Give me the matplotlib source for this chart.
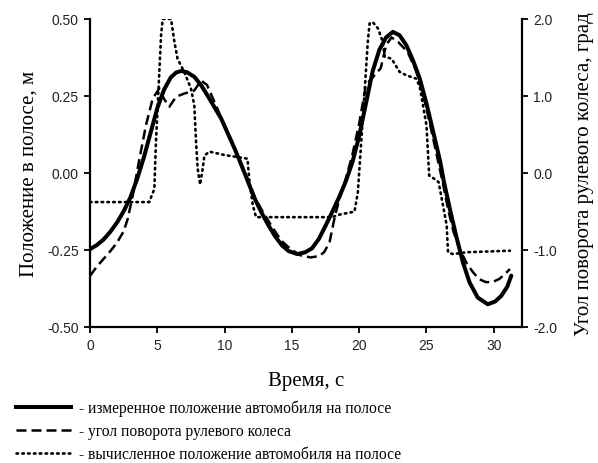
import numpy as np
import matplotlib
matplotlib.use("Agg")
import matplotlib.pyplot as plt
from matplotlib.lines import Line2D
from matplotlib.ticker import FormatStrFormatter

plt.rcParams['axes.unicode_minus'] = False

# измеренное положение автомобиля на полосе, м
t_meas = [0, 0.5, 1.0, 1.5, 2.0, 2.5, 3.0, 3.5, 4.0, 4.5, 5.0, 5.5, 6.0, 6.4, 6.8,
          7.2, 7.75, 8.25, 8.75, 9.25, 9.75, 10.25, 10.75, 11.25, 11.75, 12.25,
          12.75, 13.25, 13.75, 14.25, 14.75, 15.4, 16.0, 16.5, 17.0, 17.5, 18.0,
          18.5, 19.0, 19.5, 20.0, 20.5, 21.0, 21.5, 22.0, 22.5, 23.0, 23.5, 24.0,
          24.5, 25.0, 25.5, 26.0, 26.3, 26.75, 27.2, 27.7, 28.2, 28.8, 29.55,
          30.1, 30.55, 31.0, 31.3]
y_meas = [-0.248, -0.235, -0.217, -0.192, -0.162, -0.125, -0.08, -0.02, 0.05,
          0.13, 0.21, 0.27, 0.31, 0.326, 0.331, 0.327, 0.312, 0.285, 0.25,
          0.213, 0.176, 0.127, 0.078, 0.025, -0.03, -0.085, -0.13, -0.17, -0.206,
          -0.235, -0.254, -0.264, -0.258, -0.245, -0.215, -0.172, -0.127, -0.08,
          -0.028, 0.035, 0.12, 0.225, 0.33, 0.40, 0.44, 0.458, 0.447, 0.415,
          0.365, 0.306, 0.225, 0.133, 0.04, -0.03, -0.12, -0.204, -0.29, -0.356,
          -0.405, -0.427, -0.418, -0.40, -0.37, -0.334]

# угол поворота рулевого колеса, град
t_steer = [0, 0.5, 1.0, 1.5, 2.0, 2.5, 2.8, 3.17, 3.67, 4.16, 4.65, 5.15, 5.5,
           5.9, 6.4, 7.0, 7.75, 8.25, 8.7, 9.2, 9.74, 10.25, 10.75, 11.25, 11.75,
           12.25, 12.75, 13.45, 14.2, 14.9, 15.6, 16.4, 17.05, 17.4, 17.8, 18.2,
           18.5, 19.0, 19.5, 20.0, 20.5, 21.0, 21.6, 22.0, 22.4, 22.9, 23.6, 24.2,
           24.7, 25.2, 25.7, 26.2, 26.6, 27.0, 27.46, 28.0, 28.45, 28.9, 29.4,
           29.9, 30.4, 30.8, 31.2]
y_steer = [-1.34, -1.22, -1.12, -1.02, -0.91, -0.76, -0.60, -0.30, 0.18, 0.62,
           0.96, 1.10, 0.96, 0.86, 0.99, 1.03, 1.07, 1.20, 1.14, 0.94, 0.72,
           0.52, 0.32, 0.10, -0.10, -0.32, -0.48, -0.68, -0.88, -0.99, -1.07,
           -1.10, -1.08, -1.03, -0.90, -0.56, -0.36, -0.08, 0.24, 0.64, 1.14,
           1.24, 1.36, 1.66, 1.76, 1.70, 1.57, 1.34, 1.05, 0.68, 0.28, -0.12,
           -0.47, -0.76, -0.99, -1.18, -1.29, -1.38, -1.42, -1.42, -1.38, -1.32,
           -1.25]

# вычисленное положение автомобиля на полосе, м
t_calc = [0, 4.4, 4.78, 4.9, 5.08, 5.28, 5.4, 6.02, 6.27, 6.5, 7.0, 7.5, 7.75,
          7.88, 8.0, 8.18, 8.37, 8.5, 8.87, 9.98, 11.7, 11.85, 12.1, 12.34, 18.0,
          18.5, 19.65, 19.9, 20.15, 20.4, 20.64, 20.77, 21.0, 21.4, 21.75, 21.9,
          22.4, 23.0, 23.5, 24.24, 24.5, 25.0, 25.2, 25.6, 25.9, 26.5, 26.6,
          26.96, 28.0, 31.2]
y_calc = [-0.095, -0.095, -0.052, 0.10, 0.263, 0.447, 0.50, 0.50, 0.426, 0.371,
          0.328, 0.274, 0.219, 0.10, 0.013, -0.038, 0.013, 0.056, 0.069, 0.058,
          0.046, -0.03, -0.106, -0.144, -0.144, -0.136, -0.126, -0.063, 0.10,
          0.263, 0.426, 0.485, 0.49, 0.469, 0.426, 0.377, 0.371, 0.328, 0.317,
          0.306, 0.28, 0.154, -0.009, -0.02, -0.03, -0.17, -0.258, -0.264,
          -0.258, -0.253]

labels = ['- измеренное положение автомобиля на полосе',
          '- угол поворота рулевого колеса',
          '- вычисленное положение автомобиля на полосе']

serif = 'Liberation Serif'
sans = 'Liberation Sans'

fig = plt.figure(figsize=(5.98, 4.64), dpi=100)
ax = fig.add_axes([0.1505, 0.2937, 0.7225, 0.6633])
ax2 = ax.twinx()

dash_style = (0, (4, 2))
dot_style = (0, (0.6, 1.6))

ax.plot(t_meas, y_meas, color='black', lw=2.9, solid_capstyle='round',
        solid_joinstyle='round', zorder=3)
ax.plot(t_calc, y_calc, color='black', lw=1.9, linestyle=dot_style,
        dash_capstyle='round', zorder=2)
ax2.plot(t_steer, y_steer, color='black', lw=1.8, linestyle=dash_style)

ax.set_xlim(0, 32.1)
ax.set_ylim(-0.5, 0.5)
ax2.set_ylim(-2.0, 2.0)
ax.set_xticks([0, 5, 10, 15, 20, 25, 30])
ax.set_yticks([-0.5, -0.25, 0, 0.25, 0.5])
ax2.set_yticks([-2, -1, 0, 1, 2])
ax.yaxis.set_major_formatter(FormatStrFormatter('%.2f'))
ax2.yaxis.set_major_formatter(FormatStrFormatter('%.1f'))

for a in (ax, ax2):
    a.spines['top'].set_visible(False)
    for s in ('left', 'right', 'bottom'):
        a.spines[s].set_linewidth(1.6)
    a.tick_params(direction='out', length=4, width=1.3, labelsize=10,
                  labelcolor='#222222', pad=4)
    for lab in a.get_xticklabels() + a.get_yticklabels():
        lab.set_fontfamily(sans)
ax.spines['right'].set_visible(False)
ax2.spines['left'].set_visible(False)
ax2.spines['bottom'].set_visible(False)

ax.set_xlabel('Время, с', fontsize=15, family=serif, labelpad=14)
ax.set_ylabel('Положение в полосе, м', fontsize=15, family=serif, labelpad=6)
ax2.set_ylabel('Угол поворота рулевого колеса, град', fontsize=15,
               family=serif, labelpad=13)

handles = [Line2D([], [], color='black', lw=2.9),
           Line2D([], [], color='black', lw=1.8, linestyle=dash_style),
           Line2D([], [], color='black', lw=1.9, linestyle=dot_style,
                  dash_capstyle='round')]
fig.legend(handles, labels, loc='upper left', bbox_to_anchor=(0.017, 0.15),
           frameon=False, prop={'family': serif, 'size': 11.2},
           handlelength=3.5, handletextpad=0.55, labelspacing=0.45,
           borderaxespad=0)

fig.savefig('out.png', dpi=100)
